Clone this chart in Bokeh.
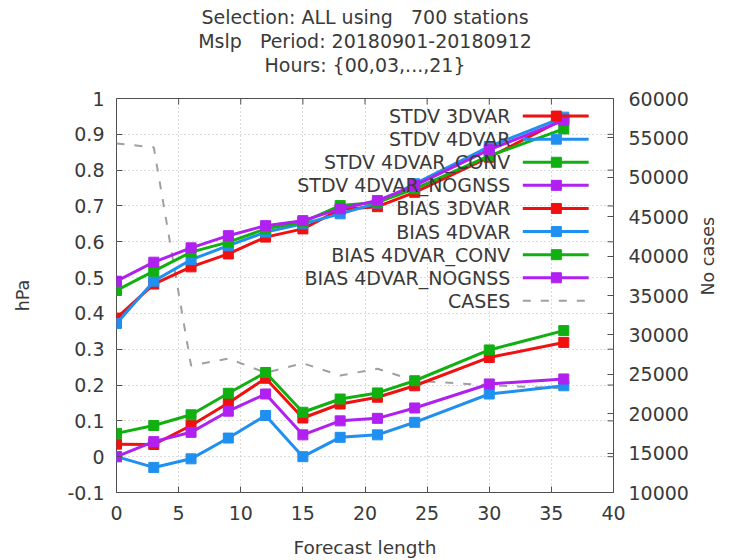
import math
from bokeh.plotting import figure
from bokeh.models import (Range1d, LinearAxis, FixedTicker, CustomJSTickFormatter,
                          Title, ColumnDataSource)
from bokeh.core.properties import value
from bokeh.embed import file_html
from bokeh.resources import INLINE

# ---- data -------------------------------------------------------------
fc_length = [0, 3, 6, 9, 12, 15, 18, 21, 24, 30, 36]

stdv_3dvar = [0.387, 0.482, 0.530, 0.566, 0.613, 0.636, 0.690, 0.698, 0.738, 0.836, 0.943]
stdv_4dvar = [0.372, 0.490, 0.550, 0.589, 0.627, 0.650, 0.678, 0.708, 0.762, 0.866, 0.948]
stdv_4dvar_conv = [0.464, 0.518, 0.571, 0.599, 0.636, 0.655, 0.701, 0.710, 0.748, 0.840, 0.915]
stdv_4dvar_nognss = [0.490, 0.543, 0.583, 0.617, 0.645, 0.659, 0.692, 0.715, 0.757, 0.857, 0.939]

bias_3dvar = [0.035, 0.034, 0.087, 0.150, 0.219, 0.108, 0.147, 0.166, 0.198, 0.277, 0.319]
bias_4dvar = [0.000, -0.030, -0.006, 0.052, 0.115, 0.000, 0.054, 0.061, 0.096, 0.175, 0.198]
bias_4dvar_conv = [0.065, 0.087, 0.117, 0.177, 0.235, 0.124, 0.161, 0.178, 0.212, 0.298, 0.352]
bias_4dvar_nognss = [0.000, 0.042, 0.068, 0.127, 0.175, 0.061, 0.100, 0.107, 0.136, 0.203, 0.217]

cases = [54300, 53800, 26100, 27000, 25200, 26400, 24850, 25700, 24200, 23600, 23200]

series_names = ["STDV 3DVAR", "STDV 4DVAR", "STDV 4DVAR_CONV", "STDV 4DVAR_NOGNSS",
                "BIAS 3DVAR", "BIAS 4DVAR", "BIAS 4DVAR_CONV", "BIAS 4DVAR_NOGNSS"]
series_values = [stdv_3dvar, stdv_4dvar, stdv_4dvar_conv, stdv_4dvar_nognss,
                 bias_3dvar, bias_4dvar, bias_4dvar_conv, bias_4dvar_nognss]
cases_name = "CASES"

x_ticks = [0, 5, 10, 15, 20, 25, 30, 35, 40]
y_ticks = [-0.1, 0.0, 0.1, 0.2, 0.3, 0.4, 0.5, 0.6, 0.7, 0.8, 0.9, 1.0]
y2_ticks = [10000, 15000, 20000, 25000, 30000, 35000, 40000, 45000, 50000, 55000, 60000]

NBSP = "\u00a0"
title_lines = ["Selection: ALL using" + NBSP * 3 + "700 stations",
               "Mslp" + NBSP * 3 + "Period: 20180901-20180912",
               "Hours: {00,03,...,21}"]

# ---- style ------------------------------------------------------------
FONT = "DejaVu Sans"
TXT = "#3a3a3a"
FS = "19px"
colors = ["#f01010", "#2090f0", "#10b010", "#b020f0"] * 2
cases_color = "#a0a0a0"
cases_dash = "8 10"
X0, X1, Y0, Y1 = 0, 40, -0.1, 1.0
FRAME_W, FRAME_H = 497, 394

p = figure(width=734, height=560, x_range=Range1d(X0, X1), y_range=Range1d(Y0, Y1),
           output_backend="svg", toolbar_location=None,
           min_border_left=116, min_border_right=121, min_border_top=98,
           min_border_bottom=68, background_fill_color="white",
           border_fill_color="white", outline_line_color="#505050",
           outline_line_width=1)
p.title.visible = False

p.extra_y_ranges = {"cases": Range1d(10000, 60000)}

# grids: dotted grey at every major tick
for g in (p.xgrid, p.ygrid):
    g.grid_line_color = "#b8b8b8"
    g.grid_line_dash = "1 3"
    g.grid_line_width = 1
p.xgrid.ticker = FixedTicker(ticks=x_ticks)
p.ygrid.ticker = FixedTicker(ticks=y_ticks)

fmt = CustomJSTickFormatter(code="return String(Number(tick.toFixed(2)));")


def style_axis(ax, label_size="17.5px"):
    ax.axis_line_color = None
    ax.major_tick_in = 6
    ax.major_tick_out = 0
    ax.minor_tick_line_color = None
    ax.major_tick_line_color = "#505050"
    ax.major_label_text_font = FONT
    ax.major_label_text_font_size = FS
    ax.major_label_text_color = TXT
    ax.axis_label_text_font = FONT
    ax.axis_label_text_font_size = label_size
    ax.axis_label_text_font_style = "normal"
    ax.axis_label_text_color = TXT


xa = p.xaxis[0]
xa.ticker = FixedTicker(ticks=x_ticks)
xa.axis_label = "Forecast length"
style_axis(xa, "18.5px")
xa.major_label_standoff = 13
xa.axis_label_standoff = 14

ya = p.yaxis[0]
ya.ticker = FixedTicker(ticks=y_ticks)
ya.formatter = fmt
ya.axis_label = "hPa"
style_axis(ya)
ya.major_label_standoff = 12
ya.axis_label_standoff = 31

ra = LinearAxis(y_range_name="cases", ticker=FixedTicker(ticks=y2_ticks),
                axis_label="No cases")
style_axis(ra)
ra.major_label_standoff = 15
ra.axis_label_standoff = 16
if "axis_label_orientation" in ra.properties():
    # caption reads bottom to top, like the left one
    ra.axis_label_orientation = math.pi / 2
p.add_layout(ra, "right")

# mirrored tick marks on the top and right edges of the frame
dx = 6 * (X1 - X0) / FRAME_W
dy = 6 * (Y1 - Y0) / FRAME_H
p.segment(x0=x_ticks[1:-1], y0=[Y1] * (len(x_ticks) - 2), x1=x_ticks[1:-1],
          y1=[Y1 - dy] * (len(x_ticks) - 2), line_color="#505050", line_width=1)
p.segment(x0=[X1] * len(y_ticks), y0=y_ticks, x1=[X1 - dx] * len(y_ticks), y1=y_ticks,
          line_color="#505050", line_width=1)

# number of cases (right axis)
p.line(fc_length, cases, y_range_name="cases", line_color=cases_color,
       line_width=2, line_dash=cases_dash)

# verification scores
for name, vals, col in zip(series_names, series_values, colors):
    src = ColumnDataSource(dict(x=fc_length, y=vals))
    p.line("x", "y", source=src, line_color=col, line_width=3)
    p.scatter("x", "y", source=src, marker="square", size=10,
              fill_color=col, line_color=col)

# key: text right-aligned, sample line to the right
leg_text_x = 31.7
leg_line_x0, leg_line_x1, leg_mark_x = 32.7, 38.0, 35.4
leg_y0, leg_dy = 0.951, 0.0645
for i, (name, col) in enumerate(zip(series_names, colors)):
    yy = leg_y0 - i * leg_dy
    p.text([leg_text_x], [yy], text=[name], text_align="right", text_baseline="middle",
           text_font=value(FONT), text_font_size=FS, text_color=TXT)
    p.line([leg_line_x0, leg_line_x1], [yy, yy], line_color=col, line_width=3)
    p.scatter([leg_mark_x], [yy], marker="square", size=10, fill_color=col, line_color=col)
yy = leg_y0 - len(series_names) * leg_dy
p.text([leg_text_x], [yy], text=[cases_name], text_align="right", text_baseline="middle",
       text_font=value(FONT), text_font_size=FS, text_color=TXT)
p.line([leg_line_x0, leg_line_x1], [yy, yy], line_color=cases_color, line_width=2,
       line_dash=cases_dash)

# three-line title; a blank line keeps it clear of the frame
p.add_layout(Title(text=NBSP, text_font=FONT, text_font_size="18px", standoff=0), "above")
for line in reversed(title_lines):
    p.add_layout(Title(text=line, align="center", text_font=FONT, text_font_size=FS,
                       text_font_style="normal", text_color=TXT, standoff=0), "above")

open("out.html", "w").write(file_html(p, INLINE))
